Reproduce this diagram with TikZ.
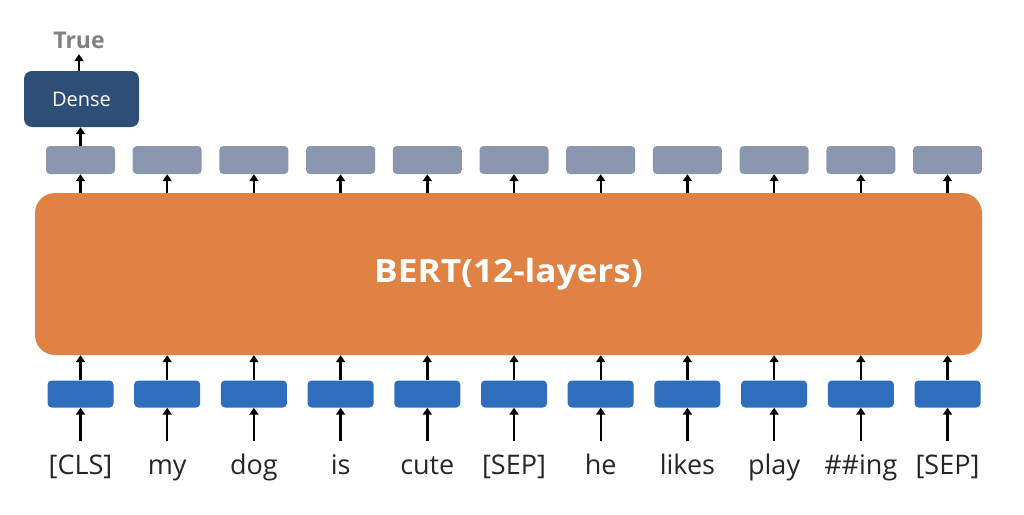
\documentclass[tikz,border=0pt]{standalone}
\usepackage{fontspec}
\setmainfont{Open Sans}
\usetikzlibrary{arrows.meta,calc}
\definecolor{bertorange}{HTML}{E08244}
\definecolor{outgrey}{HTML}{8A97AE}
\definecolor{inblue}{HTML}{2E6EBD}
\definecolor{densecol}{HTML}{2D4E76}
\definecolor{truegrey}{HTML}{808080}
\tikzset{
  arr/.style={draw=black, line width=2.4pt, -{Triangle[width=9pt,length=7pt]}},
  inbox/.style={fill=inblue, rounded corners=4pt, minimum width=66pt, minimum height=27pt, inner sep=0pt},
  outbox/.style={fill=outgrey, rounded corners=4pt, minimum width=69pt, minimum height=28pt, inner sep=0pt},
  tok/.style={anchor=base, inner xsep=0pt, inner ysep=12pt, text height=21pt, text depth=6pt, font=\fontsize{27}{30}\selectfont, text=black!85},
}
\begin{document}
\begin{tikzpicture}[x=1pt,y=-1pt]
\useasboundingbox (0,0) rectangle (1024,514);
\node[fill=bertorange, rounded corners=20pt, minimum width=947pt, minimum height=162pt, inner sep=0pt,
  font=\bfseries\fontsize{32}{36}\selectfont, text=white] (bert) at (508.5,274) {\scalebox{1.1}[1]{BERT(12-layers)}};
\foreach [count=\i] \w in {[CLS],my,dog,is,cute,[SEP],he,likes,play,\#\#ing,[SEP]} {
  \pgfmathsetmacro{\xx}{80.5+86.7*(\i-1)}
  \node[tok] (t\i) at (\xx,474) {\w};
  \node[inbox] (b\i) at (\xx,394) {};
  \node[outbox] (g\i) at (\xx,160) {};
  \draw[arr] (t\i.north) -- (b\i.south);
  \draw[arr] (b\i.north) -- (b\i.north |- bert.south);
  \draw[arr] (g\i.south |- bert.north) -- (g\i.south);
}
\node[fill=densecol, rounded corners=8pt, minimum width=115pt, minimum height=56pt, inner sep=0pt,
  text=white, font=\fontsize{20}{24}\selectfont] (dense) at (81.5,99) {Dense};
\node[anchor=base, inner ysep=6pt, text depth=0pt, text=truegrey, font=\bfseries\fontsize{23}{26}\selectfont] (true) at (79,48) {True};
\draw[arr] (g1.north) -- (g1.north |- dense.south);
\draw[arr] (dense.north -| true.south) -- (true.south);
\end{tikzpicture}
\end{document}
